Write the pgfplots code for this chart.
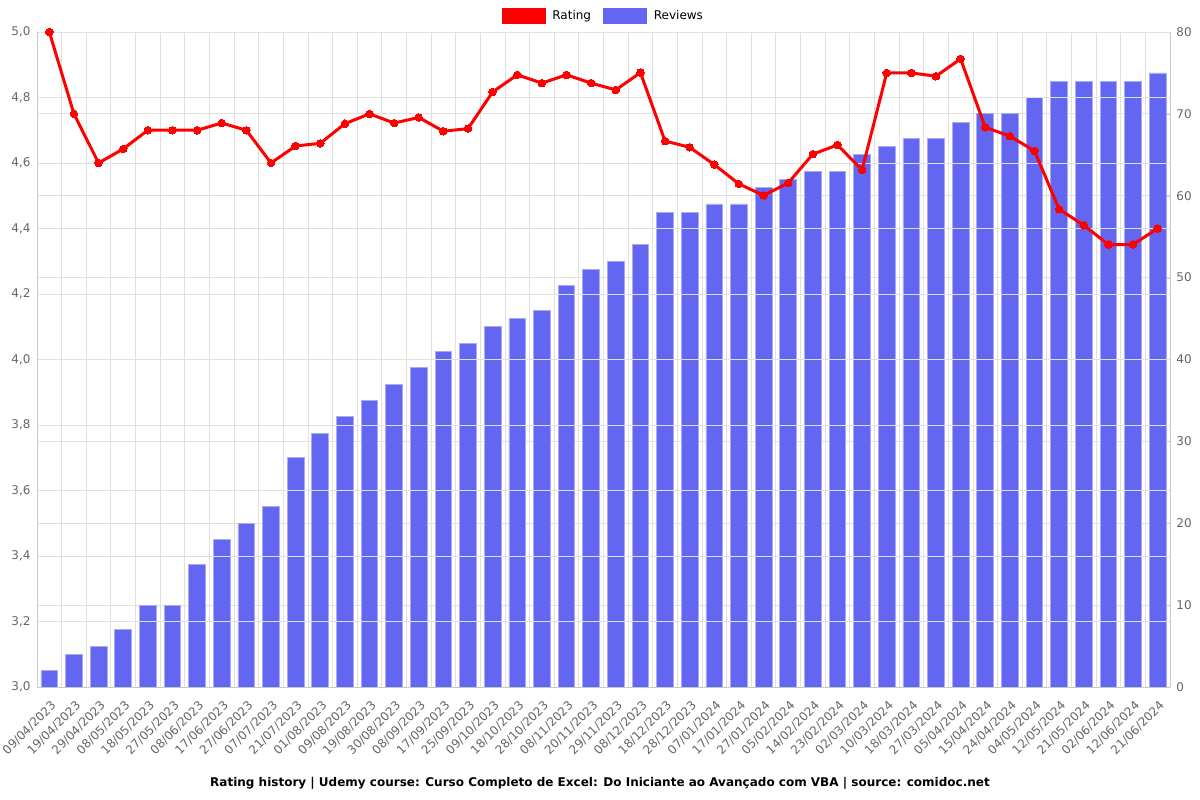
\documentclass[border=0pt]{standalone}
\usepackage{fontspec}
\setmainfont{DejaVu Sans}
\usepackage{pgfplots}
\pgfplotsset{compat=1.18}
\definecolor{ratingred}{RGB}{255,0,0}
\definecolor{barblue}{RGB}{99,102,241}
\definecolor{gridgray}{RGB}{224,224,224}
\definecolor{axisgray}{RGB}{200,200,200}
\definecolor{labelgray}{RGB}{102,102,102}

\pgfplotstableread{
idx reviews rating
0  2  5.000
1  4  4.750
2  5  4.600
3  7  4.643
4  10 4.700
5  10 4.700
6  15 4.700
7  18 4.722
8  20 4.700
9  22 4.600
10 28 4.652
11 31 4.660
12 33 4.720
13 35 4.750
14 37 4.722
15 39 4.739
16 41 4.697
17 42 4.705
18 44 4.817
19 45 4.869
20 46 4.844
21 49 4.869
22 51 4.844
23 52 4.823
24 54 4.876
25 58 4.667
26 58 4.648
27 59 4.595
28 59 4.536
29 61 4.501
30 62 4.539
31 63 4.627
32 63 4.655
33 65 4.579
34 66 4.875
35 67 4.875
36 67 4.865
37 69 4.918
38 70 4.709
39 70 4.682
40 72 4.637
41 74 4.459
42 74 4.410
43 74 4.351
44 74 4.351
45 75 4.400
}\datatable

\pgfplotsset{
  common/.style={
    at={(37pt,113pt)}, anchor=south west,
    scale only axis, width=1133pt, height=655pt,
    xmin=-0.5, xmax=45.5,
    axis line style={axisgray},
    tick label style={font=\fontsize{12}{12}\selectfont, text=labelgray},
    /pgf/number format/assume math mode=true,
    ymajorgrids, grid style={gridgray, line width=0.8pt},
    major tick length=5pt,
    tick style={axisgray},
  },
}

\begin{document}
\begin{tikzpicture}
\path[use as bounding box] (0,0) rectangle (1200pt,800pt);

% reviews (right axis), drawn first so the line sits on top
\begin{axis}[common,
  axis x line*=bottom,
  axis y line*=right,
  ymin=0, ymax=80, ytick={0,10,...,80},
  ytick style={axisgray}, ytick pos=right,
  yticklabel style={xshift=3pt},
  xtick={0,...,45},
  xtick style={draw=none},
  minor xtick={-0.5,0.5,...,45.5},
  xminorgrids, minor grid style={gridgray, line width=0.8pt},
  minor tick length=5pt,
  xticklabels={09/04/2023,19/04/2023,29/04/2023,08/05/2023,18/05/2023,27/05/2023,08/06/2023,17/06/2023,27/06/2023,07/07/2023,21/07/2023,01/08/2023,09/08/2023,19/08/2023,30/08/2023,08/09/2023,17/09/2023,25/09/2023,09/10/2023,18/10/2023,28/10/2023,08/11/2023,20/11/2023,29/11/2023,08/12/2023,18/12/2023,28/12/2023,07/01/2024,17/01/2024,27/01/2024,05/02/2024,14/02/2024,23/02/2024,02/03/2024,10/03/2024,18/03/2024,27/03/2024,05/04/2024,15/04/2024,24/04/2024,04/05/2024,12/05/2024,21/05/2024,02/06/2024,12/06/2024,21/06/2024},
  xticklabel style={xshift=7pt, yshift=-14pt, rotate=45, anchor=east},
  legend style={at={(0.5,1)}, anchor=south, yshift=6pt, draw=none, fill=none,
    font=\fontsize{12}{12}\selectfont, legend columns=2,
    /tikz/every odd column/.append style={column sep=5pt},
    /tikz/every even column/.append style={column sep=10pt}},
  legend cell align=left,
]
\addlegendimage{legend image code/.code={\fill[ratingred] (0pt,-7.5pt) rectangle (43pt,7.5pt);}}
\addlegendentry{Rating}
\addplot[ybar, bar shift=0pt, bar width=16.7pt, fill=barblue, draw=barblue!55!white, line width=0.8pt,
  legend image code/.code={\fill[barblue] (0pt,-7.5pt) rectangle (43pt,7.5pt);}]
  table[x=idx, y=reviews] {\datatable};
\addlegendentry{Reviews}
\end{axis}

% rating (left axis)
\begin{axis}[common,
  axis x line*=bottom,
  axis y line*=left,
  ymin=3, ymax=5, ytick={3,3.2,...,5.01},
  ytick style={draw=none},
  yticklabel style={xshift=-3pt, /pgf/number format/.cd, fixed, fixed zerofill, precision=1, use comma},
  xtick=\empty,
  clip=false,
]
\addplot[ratingred, line width=3pt, mark=*, mark size=3.8pt, mark options={fill=ratingred, draw=ratingred, line width=0pt}]
  table[x=idx, y=rating] {\datatable};
\end{axis}

\node[font=\bfseries\fontsize{12}{12}\selectfont] at (600pt,17pt)
  {Rating history | Udemy course: Curso Completo de Excel: Do Iniciante ao Avançado com VBA | source: comidoc.net};
\end{tikzpicture}
\end{document}
